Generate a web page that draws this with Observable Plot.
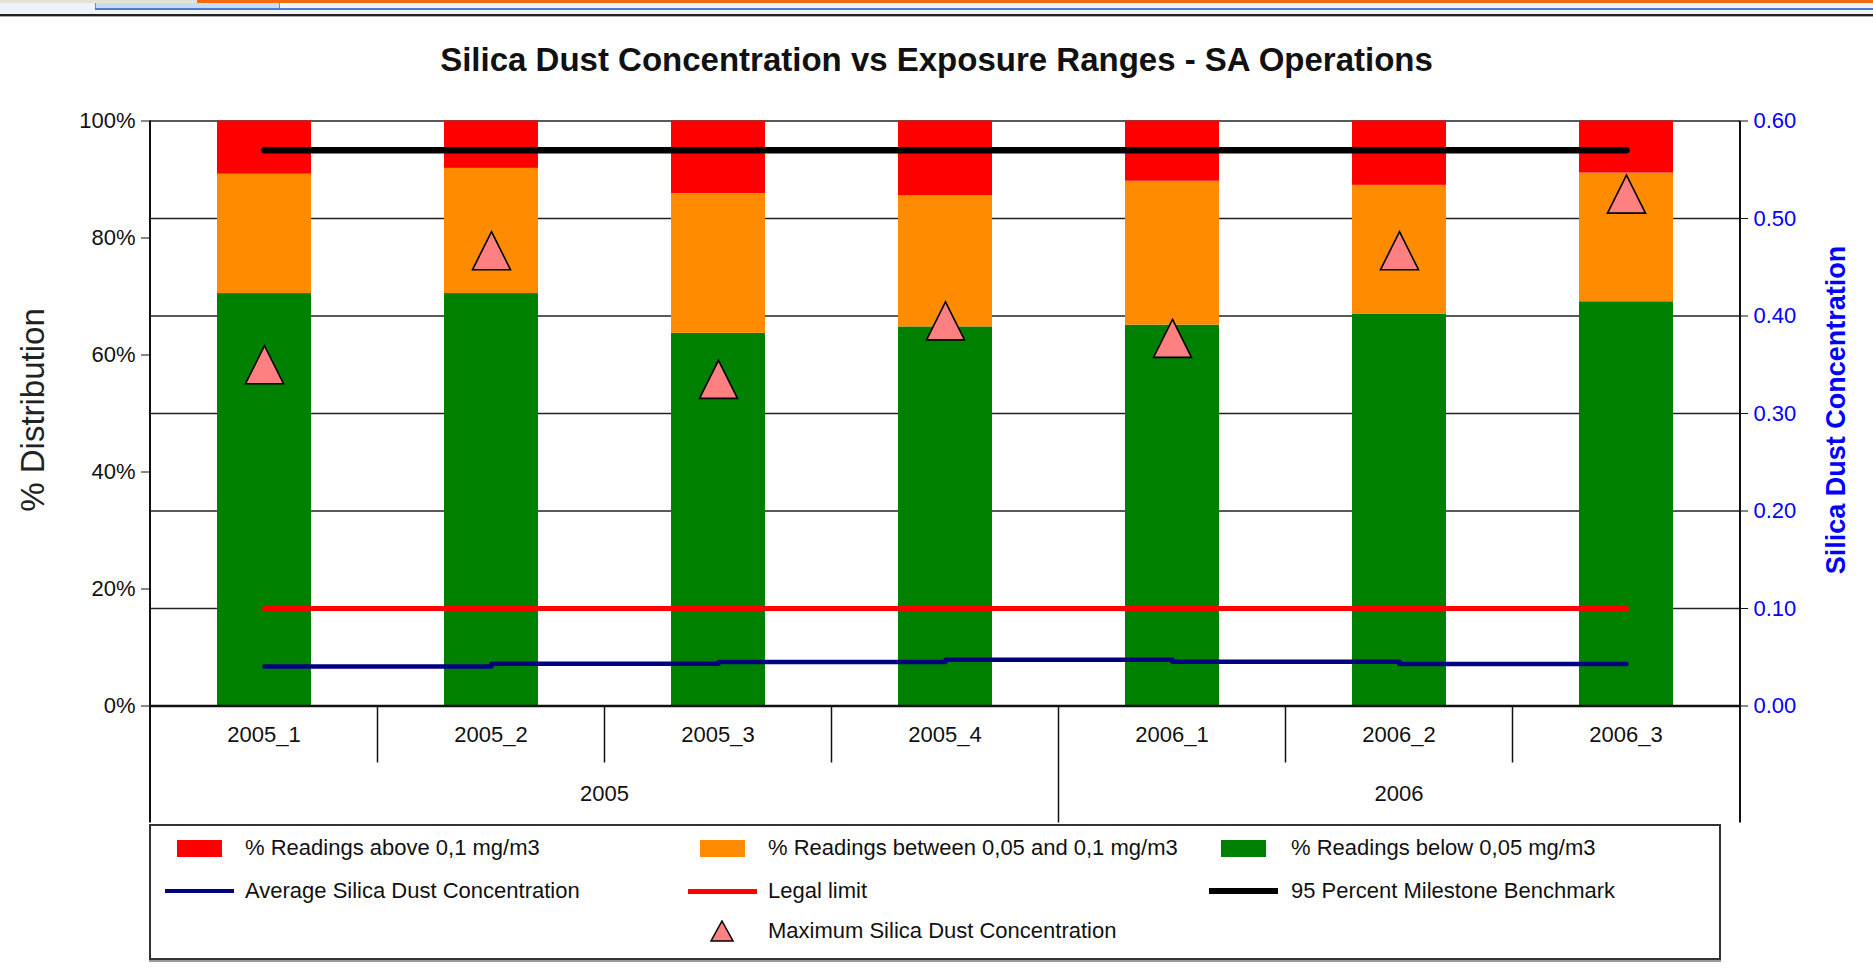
<!DOCTYPE html>
<html>
<head>
<meta charset="utf-8">
<script src="https://cdn.jsdelivr.net/npm/d3@7"></script>
<script src="https://cdn.jsdelivr.net/npm/@observablehq/plot@0.6"></script>
<style>
html, body { margin: 0; padding: 0; background: #fff; }
#root { position: relative; width: 1873px; height: 971px; overflow: hidden; font-family: "Liberation Sans", Arial, sans-serif; color: #111; }
#root svg { position: absolute; left: 0; top: 0; }
.abs { position: absolute; white-space: nowrap; }
</style>
</head>
<body>
<div id="root"></div>
<script>
// ---------------- data ----------------
const categories = ["2005_1", "2005_2", "2005_3", "2005_4", "2006_1", "2006_2", "2006_3"];
const years = ["2005", "2006"];
const bandNames = ["% Readings below 0,05 mg/m3", "% Readings between 0,05 and 0,1 mg/m3", "% Readings above 0,1 mg/m3"];
const bandColors = ["#008000", "#ff8c00", "#ff0000"];
const pctBelow   = [70.5, 70.5, 63.7, 64.8, 65.1, 67.0, 69.1];
const pctBetween = [20.4, 21.4, 23.9, 22.4, 24.6, 22.0, 22.0];
const pctAbove   = [9.1, 8.1, 12.4, 12.8, 10.3, 11.0, 8.9];
const avgConc    = [0.0406, 0.0434, 0.0451, 0.0475, 0.0454, 0.0430, 0.0430];
const maxConc    = [0.350, 0.467, 0.335, 0.395, 0.377, 0.467, 0.525];
const legalLimit = [0.1, 0.1, 0.1, 0.1, 0.1, 0.1, 0.1];
const benchmark  = [95, 95, 95, 95, 95, 95, 95];
const leftTicks  = [0, 20, 40, 60, 80, 100];
const rightTicks = [0, 0.1, 0.2, 0.3, 0.4, 0.5, 0.6];
const titleText = "Silica Dust Concentration vs Exposure Ranges - SA Operations";
const leftTitle = "% Distribution";
const rightTitle = "Silica Dust Concentration";
const lineNames = ["Average Silica Dust Concentration", "Legal limit", "95 Percent Milestone Benchmark"];
const markerName = "Maximum Silica Dust Concentration";

// ---------------- tables ----------------
const rightMax = d3.max(rightTicks);
const toY = v => v / rightMax * 100;   // right-axis units -> left-axis units
const bandValues = [pctBelow, pctBetween, pctAbove];
const barRows = categories.flatMap((c, i) => bandNames.map((b, k) => ({cat: c, band: b, value: bandValues[k][i]})));
const pointRows = categories.map((c, i) => ({cat: c, avg: avgConc[i], max: maxConc[i], legal: legalLimit[i], bench: benchmark[i]}));

const triangle = {
  draw(context, size) {
    const r = Math.sqrt(size / Math.PI);
    context.moveTo(0, -r);
    context.lineTo(r, r);
    context.lineTo(-r, r);
    context.closePath();
  }
};

// custom category axis (labels, separators, year groups, outer verticals)
function categoryAxis(index, scales, values, dims) {
  const x = scales.x, y = scales.y;
  const bw = typeof x.bandwidth === "function" ? x.bandwidth() : 0;
  const step = x(categories[1]) - x(categories[0]);
  const center = c => x(c) + bw / 2;
  const y0 = y(0);
  const left = dims.marginLeft, right = dims.width - dims.marginRight;
  const shortDrop = 57, longDrop = 117;
  const yearOf = c => c.split("_")[0];
  const g = d3.create("svg:g");
  const line = (x1, y1, x2, y2, w) => g.append("line").attr("x1", x1).attr("y1", y1).attr("x2", x2).attr("y2", y2)
    .attr("stroke", "#111").attr("stroke-width", w);
  line(left, y(100), left, y0 + longDrop, 2);
  line(right, y(100), right, y0 + longDrop, 2);
  for (let i = 0; i < categories.length - 1; i++) {
    const bx = center(categories[i]) + step / 2;
    const long = yearOf(categories[i]) !== yearOf(categories[i + 1]);
    line(bx, y0, bx, y0 + (long ? longDrop : shortDrop), 1.5);
  }
  const txt = (s, tx, ty) => g.append("text").attr("x", tx).attr("y", ty).attr("text-anchor", "middle")
    .attr("dy", "0.35em").attr("font-size", 22).attr("fill", "#111").text(s);
  categories.forEach(c => txt(c, center(c), y0 + 29));
  years.forEach(yr => {
    const cs = categories.filter(c => yearOf(c) === yr);
    const a = center(cs[0]) - step / 2, b = center(cs[cs.length - 1]) + step / 2;
    txt(yr, (a + b) / 2, y0 + 88);
  });
  return g.node();
}

const chart = Plot.plot({
  width: 1873,
  height: 971,
  marginTop: 120.5,
  marginBottom: 265.5,
  marginLeft: 150,
  marginRight: 133,
  style: {fontFamily: "'Liberation Sans', Arial, sans-serif", fontSize: "22px", background: "transparent", overflow: "visible"},
  x: {domain: categories, paddingInner: 0.5875, paddingOuter: 0.29375, axis: null},
  y: {domain: [0, 100], axis: null},
  color: {domain: bandNames, range: bandColors},
  marks: [
    Plot.gridY(rightTicks.map(toY), {stroke: "#222", strokeOpacity: 1, strokeWidth: 1.5}),
    Plot.barY(barRows, {x: "cat", y: "value", fill: "band"}),
    Plot.ruleY([0], {stroke: "#111", strokeWidth: 2.5}),
    Plot.lineY(pointRows, {x: "cat", y: d => toY(d.legal), stroke: "#ff0000", strokeWidth: 5}),
    Plot.lineY(pointRows, {x: "cat", y: d => toY(d.avg), stroke: "#000080", strokeWidth: 4.5, curve: "step-after"}),
    Plot.lineY(pointRows, {x: "cat", y: "bench", stroke: "#000", strokeWidth: 6.5}),
    Plot.dot(pointRows, {x: "cat", y: d => toY(d.max), symbol: triangle, r: 19, fill: "#ff8080", stroke: "#000", strokeWidth: 1.6}),
    Plot.axisY({ticks: leftTicks, anchor: "left", tickFormat: d => d + "%", tickSize: 9, tickPadding: 6, fill: "#111", stroke: "#111", fontSize: 22, label: null}),
    Plot.axisY({ticks: rightTicks.map(toY), anchor: "right", tickFormat: d => (d / 100 * rightMax).toFixed(2), tickSize: 7, tickPadding: 6, fill: "#0000ff", stroke: "#111", fontSize: 22, label: null}),
    categoryAxis
  ]
});

const root = document.getElementById("root");

// browser chrome strip at top of the screenshot
function box(l, t, w, h, css) {
  const d = document.createElement("div");
  d.className = "abs";
  d.style.cssText += `left:${l}px;top:${t}px;width:${w}px;height:${h}px;` + css;
  root.appendChild(d);
  return d;
}
box(0, 0, 197, 3, "background:#e6e1d3;");
box(197, 0, 1676, 3, "background:#f26a10;");
box(0, 3, 1873, 11, "background:#eef3fa;");
box(95, 3, 183, 6, "background:#c7dbf5;border-left:1px solid #5b8fd6;border-right:1px solid #5b8fd6;");
box(95, 8, 1778, 1.5, "background:#4a7fd0;");
box(0, 14, 1873, 2, "background:#222;");
box(0, 16, 1873, 1, "background:#aaa;");

root.appendChild(chart);

// title
const title = box(0, 40, 1873, 40, `text-align:center;font-size:33px;font-weight:bold;line-height:40px;color:#111;`);
title.textContent = titleText;

// axis titles
function rotated(text, cx, cy, css) {
  const d = document.createElement("div");
  d.className = "abs";
  d.textContent = text;
  d.style.cssText += `left:${cx}px;top:${cy}px;transform:translate(-50%,-50%) rotate(-90deg);` + css;
  root.appendChild(d);
}
rotated(leftTitle, 33, 410, "font-size:33px;color:#222;");
rotated(rightTitle, 1836, 410, "font-size:27px;font-weight:bold;color:#0000ff;");

// legend
box(149, 824, 1568, 132, "border:2px solid #333;box-shadow:0 2px 0 #999;background:transparent;");
function legendText(text, x, cy) {
  const d = box(x, cy - 13, 700, 26, "font-size:22px;line-height:26px;color:#111;");
  d.textContent = text;
}
const rowY = [848, 891, 931];
const colC = [199, 722, 1243];
const colT = [245, 768, 1291];
// bar swatches: above, between, below (legend order)
const barOrder = [2, 1, 0];
barOrder.forEach((k, j) => {
  box(colC[j] - 22.5, rowY[0] - 8.5, 45, 17, `background:${bandColors[k]};`);
  legendText(bandNames[k], colT[j], rowY[0]);
});
const lineStyles = [["#000080", 4.5], ["#ff0000", 5], ["#000", 6.5]];
lineNames.forEach((n, j) => {
  box(colC[j] - 34.5, rowY[1] - lineStyles[j][1] / 2, 69, lineStyles[j][1], `background:${lineStyles[j][0]};`);
  legendText(n, colT[j], rowY[1]);
});
const tri = box(colC[1] - 12, rowY[2] - 11, 24, 22, "");
tri.innerHTML = '<svg width="24" height="22" style="position:static"><path d="M12,1 L23,21 L1,21 Z" fill="#ff8080" stroke="#000" stroke-width="1.5"/></svg>';
legendText(markerName, colT[1], rowY[2]);
</script>
</body>
</html>
